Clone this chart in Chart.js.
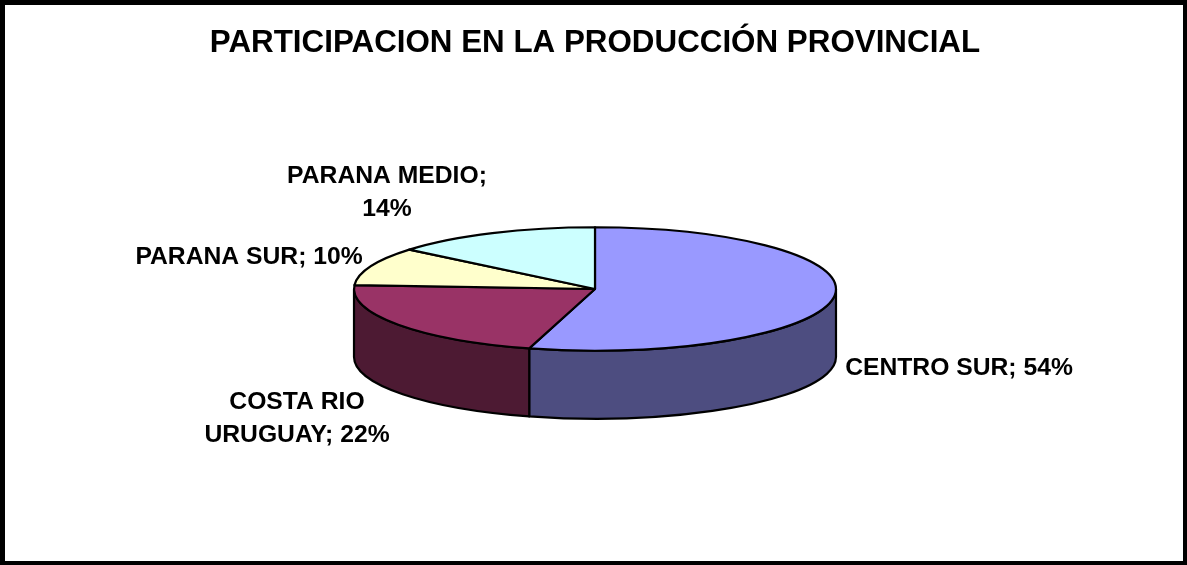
<!DOCTYPE html>
<html><head><meta charset="utf-8">
<style>html,body{margin:0;padding:0;background:#fff}#w{width:1187px;height:565px;position:relative}</style>
<script src="https://cdn.jsdelivr.net/npm/chart.js@4"></script>
</head><body><div id="w"><canvas id="c" width="1187" height="565"></canvas></div>
<script>
const categories = ['CENTRO SUR','COSTA RIO URUGUAY','PARANA SUR','PARANA MEDIO'];
const values = [54.4,21.6,10,14];
const topColors = ['#9999FF','#993366','#FFFFCC','#CCFFFF'];
const sideColors = ['#4D4D80','#4D1A33','#808066','#668080'];
const titleText = 'PARTICIPACION EN LA PRODUCCIÓN PROVINCIAL';

const squash = 62/242, depth = 68;
const labelLines = [
  {i:0, lines:['CENTRO SUR; 54%'], x:959, y:368},
  {i:1, lines:['COSTA RIO','URUGUAY; 22%'], x:297, y:402},
  {i:2, lines:['PARANA SUR; 10%'], x:249, y:257},
  {i:3, lines:['PARANA MEDIO;','14%'], x:387, y:176}
];
const pie3d = {
  id:'pie3d',
  beforeDraw(chart){
    const {ctx,width,height}=chart;
    ctx.save();ctx.fillStyle='#fff';ctx.fillRect(0,0,width,height);ctx.restore();
  },
  beforeDatasetsDraw(chart){
    const ctx=chart.ctx, arcs=chart.getDatasetMeta(0).data;
    ctx.save();
    ctx.lineWidth=2.2;ctx.strokeStyle='#000';ctx.lineJoin='round';
    arcs.forEach((a,i)=>{
      const p=a.getProps(['x','y','startAngle','endAngle','outerRadius'],true);
      const rx=p.outerRadius, ry=rx*squash;
      const s=Math.max(p.startAngle,0), e=Math.min(p.endAngle,Math.PI);
      if(e>s){
        ctx.beginPath();
        ctx.ellipse(p.x,p.y,rx,ry,0,s,e);
        ctx.ellipse(p.x,p.y+depth,rx,ry,0,e,s,true);
        ctx.closePath();
        ctx.fillStyle=sideColors[i];ctx.fill();ctx.stroke();
      }
    });
    arcs.forEach((a,i)=>{
      const p=a.getProps(['x','y','startAngle','endAngle','outerRadius'],true);
      const rx=p.outerRadius, ry=rx*squash;
      ctx.beginPath();
      ctx.moveTo(p.x,p.y);
      ctx.ellipse(p.x,p.y,rx,ry,0,p.startAngle,p.endAngle);
      ctx.closePath();
      ctx.fillStyle=topColors[i];ctx.fill();ctx.stroke();
    });
    ctx.restore();
    return false;
  },
  afterDraw(chart){
    const {ctx,width,height}=chart;
    ctx.save();
    ctx.fillStyle='#000';
    ctx.font='bold 24.7px "Liberation Sans"';
    ctx.textAlign='center';ctx.textBaseline='middle';
    labelLines.forEach(l=>l.lines.forEach((t,k)=>ctx.fillText(t,l.x,l.y+k*33.5)));
    ctx.fillRect(0,0,width,5);
    ctx.fillRect(0,height-4,width,4);
    ctx.fillRect(0,0,5,height);
    ctx.fillRect(width-4,0,4,height);
    ctx.restore();
  }
};
new Chart(document.getElementById('c'),{
  type:'pie',
  data:{labels:categories,datasets:[{data:values,backgroundColor:topColors,borderColor:'#000',borderWidth:2}]},
  plugins:[pie3d],
  options:{
    responsive:false,animation:false,
    layout:{padding:{left:3,right:0,top:0,bottom:34}},
    plugins:{
      legend:{display:false},tooltip:{enabled:false},
      title:{display:true,text:titleText,color:'#000',
        font:{family:'"Liberation Sans"',weight:'bold',size:31.35,lineHeight:1.2},
        padding:{top:24.5,bottom:-15.1}}
    }
  }
});
</script></body></html>
